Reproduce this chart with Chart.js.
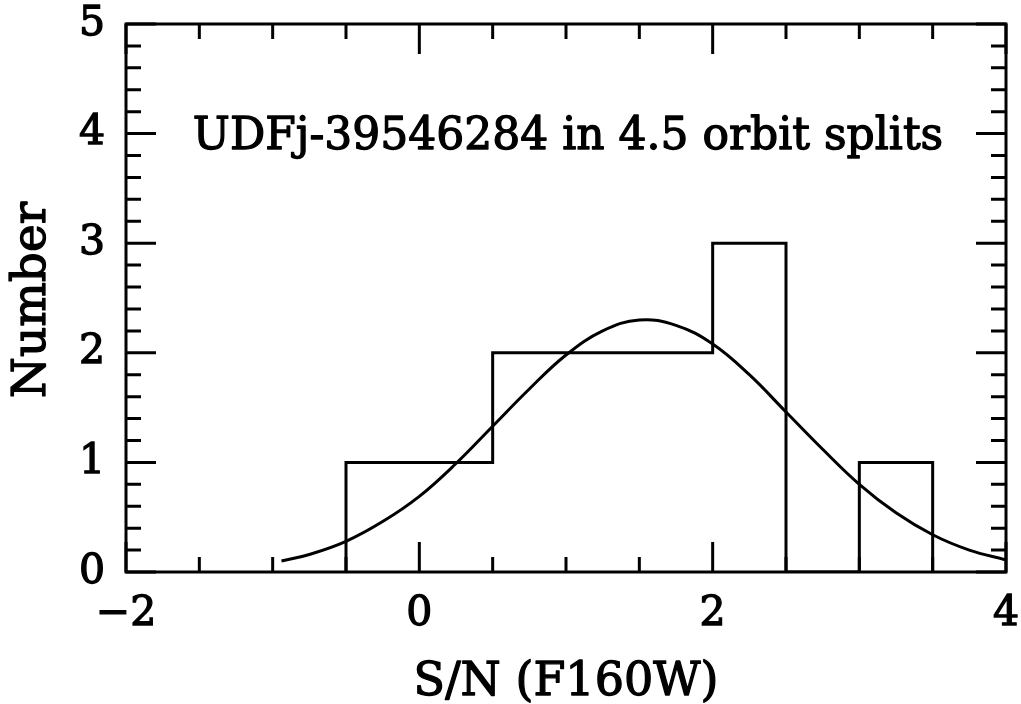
<!DOCTYPE html>
<html>
<head>
<meta charset="utf-8">
<title>S/N histogram</title>
<script src="https://cdn.jsdelivr.net/npm/chart.js@4.4.0/dist/chart.umd.min.js"></script>
<style>
	html, body { margin: 0; padding: 0; background: #fff; }
</style>
</head>
<body>
<canvas id="Chart_Hist" width="1021" height="704"></canvas>
<script>

// histogram bins, width 0.5, left edges
const bin_edges = [-0.5, 0, 0.5, 1, 1.5, 2, 2.5, 3];
const bin_width = 0.5;
const bin_counts = [1, 1, 2, 2, 2, 3, 0, 1];

// gaussian fit
const fit_x = [-0.94, -0.75, -0.5, -0.25, 0, 0.25, 0.5, 0.75, 1.0, 1.25, 1.5, 1.75, 2.0, 2.25, 2.5, 2.75, 3.0, 3.25, 3.5, 3.75, 4.0];
const fit_y = [0.10, 0.16, 0.28, 0.46, 0.69, 0.99, 1.33, 1.67, 1.98, 2.20, 2.30, 2.25, 2.08, 1.80, 1.46, 1.12, 0.80, 0.54, 0.34, 0.20, 0.11];

const x_tick_labels = [-2, 0, 2, 4];
const y_tick_labels = [0, 1, 2, 3, 4, 5];

const plot_title = 'UDFj-39546284 in 4.5 orbit splits';
const x_title = 'S/N (F160W)';
const y_title = 'Number';

const FONT = '"DejaVu Serif", serif';

window.onload = init;

function init() {

	// histogram outline
	const hist_pts = [{ x: bin_edges[0], y: 0 }];
	let i = 0;
	while(i < bin_edges.length) {
		hist_pts.push({ x: bin_edges[i], y: bin_counts[i] });
		i++;
	}
	hist_pts.push({ x: bin_edges[bin_edges.length - 1] + bin_width, y: 0 });

	const fit_pts = fit_x.map((x, k) => ({ x: x, y: fit_y[k] }));

	const chart_data = {
		datasets: [{
			label: 'hist',
			data: hist_pts,
			stepped: 'before',
			borderColor: '#000',
			borderWidth: 3,
			pointRadius: 0,
			fill: false
		}, {
			label: 'fit',
			data: fit_pts,
			borderColor: '#000',
			borderWidth: 3,
			pointRadius: 0,
			tension: 0.4,
			fill: false
		}]
	};

	const tick_font = { family: FONT, size: 41 };

	const options = {
		responsive: false,
		animation: false,
		devicePixelRatio: 1,
		layout: { padding: { top: 24, right: 15, left: 0, bottom: 0 } },
		plugins: {
			legend: { display: false },
			tooltip: { enabled: false }
		},
		scales: {
			x: {
				type: 'linear',
				min: -2,
				max: 4,
				grid: { display: false, drawTicks: false },
				border: { display: false },
				afterFit: function(scale) {
					scale.height = 132;
					scale.paddingLeft = 0;
					scale.paddingRight = 0;
				},
				afterBuildTicks: function(scale) { scale.ticks = x_tick_labels.map(v => ({ value: v })); },
				ticks: {
					color: '#000',
					textStrokeColor: '#000',
					textStrokeWidth: 1.3,
					padding: 18,
					maxRotation: 0,
					font: tick_font,
					callback: v => String(v).replace('-', '\u2212')
				},
				title: { display: false, text: x_title }
			},
			y: {
				type: 'linear',
				min: 0,
				max: 5,
				grid: { display: false, drawTicks: false },
				border: { display: false },
				afterFit: function(scale) {
					scale.width = 126;
					scale.paddingTop = 0;
					scale.paddingBottom = 0;
				},
				afterBuildTicks: function(scale) { scale.ticks = y_tick_labels.map(v => ({ value: v })); },
				ticks: {
					color: '#000',
					textStrokeColor: '#000',
					textStrokeWidth: 1.3,
					padding: 21,
					font: tick_font
				},
				title: { display: false, text: y_title }
			}
		}
	};

	function heavy_text(ctx, txt, x, y, size) {
		ctx.font = size + 'px ' + FONT;
		ctx.lineWidth = 1.3;
		ctx.lineJoin = 'round';
		ctx.fillText(txt, x, y);
		ctx.strokeText(txt, x, y);
	}

	const frame_plugin = {
		id: 'frame',
		afterDatasetsDraw(chart) {
			const ctx = chart.ctx;
			const a = chart.chartArea;
			const xs = chart.scales.x;
			const ys = chart.scales.y;

			ctx.save();
			ctx.strokeStyle = '#000';
			ctx.lineWidth = 3;
			ctx.lineCap = 'butt';

			// inward ticks on all four sides
			ctx.beginPath();
			for(let k = 0; k <= 12; k++) {
				const v = -2 + k * 0.5;
				const len = (k % 4 === 0) ? 30 : 15;
				const px = xs.getPixelForValue(v);
				ctx.moveTo(px, a.bottom); ctx.lineTo(px, a.bottom - len);
				ctx.moveTo(px, a.top); ctx.lineTo(px, a.top + len);
			}
			for(let k = 0; k <= 25; k++) {
				const v = k * 0.2;
				const len = (k % 5 === 0) ? 30 : 15;
				const py = ys.getPixelForValue(v);
				ctx.moveTo(a.left, py); ctx.lineTo(a.left + len, py);
				ctx.moveTo(a.right, py); ctx.lineTo(a.right - len, py);
			}
			ctx.stroke();

			ctx.lineJoin = 'miter';
			ctx.strokeRect(a.left, a.top, a.right - a.left, a.bottom - a.top);

			ctx.fillStyle = '#000';
			ctx.textAlign = 'center';
			ctx.textBaseline = 'alphabetic';

			// label inside the box
			heavy_text(ctx, plot_title, (a.left + a.right) / 2 + 2, ys.getPixelForValue(4) + 15, 44);

			// axis titles
			heavy_text(ctx, x_title, (a.left + a.right) / 2, 695, 46);
			ctx.save();
			ctx.translate(45, (a.top + a.bottom) / 2 + 2);
			ctx.rotate(-Math.PI / 2);
			heavy_text(ctx, y_title, 0, 0, 47);
			ctx.restore();

			ctx.restore();
		}
	};

	const chart_ctx = document.getElementById('Chart_Hist').getContext('2d');
	new Chart(chart_ctx, {
		type: 'line',
		data: chart_data,
		options: options,
		plugins: [frame_plugin]
	});
}
</script>
</body>
</html>
